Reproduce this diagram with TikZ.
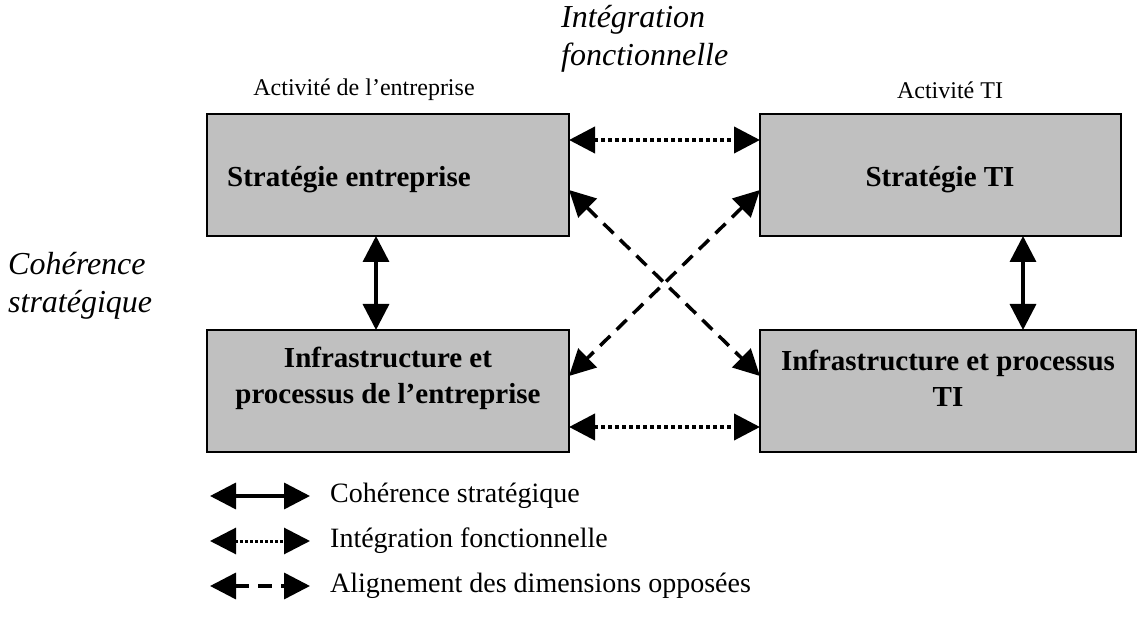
\documentclass[tikz,border=0pt]{standalone}
\usepackage{fontspec}
\setmainfont{Liberation Serif}
\usetikzlibrary{arrows.meta}
\definecolor{boxgray}{RGB}{192,192,192}
\begin{document}
\begin{tikzpicture}[x=1pt,y=-1pt,
  box/.style={draw=black,line width=2pt,fill=boxgray,anchor=north west,inner sep=0pt,outer sep=0pt,minimum height=122pt},
  boldtext/.style={font=\fontsize{29}{36}\selectfont\bfseries,align=center,inner sep=0pt},
  itallabel/.style={font=\fontsize{32}{38}\selectfont\itshape,align=left,inner sep=0pt,anchor=north west},
  smalllabel/.style={font=\fontsize{24}{28}\selectfont,inner sep=0pt},
  legtext/.style={font=\fontsize{28}{32}\selectfont,inner sep=0pt,anchor=west},
  both/.style={{Triangle[length=26pt,width=26pt]}-{Triangle[length=26pt,width=26pt]}},
  solidarrow/.style={both,line width=3.5pt},
  dotarrow/.style={both,line width=4pt,dash pattern=on 4pt off 3pt},
  dasharrow/.style={both,line width=3.5pt,dash pattern=on 14pt off 9pt},
  legdot/.style={both,line width=3pt,dash pattern=on 3pt off 2pt},
]
\useasboundingbox (0,0) rectangle (1138,617);
% boxes
\node[box,minimum width=362pt] (se) at (207,114) {};
\node[box,minimum width=361pt] (st) at (760,114) {};
\node[box,minimum width=362pt] (ie) at (207,330) {};
\node[box,minimum width=376pt] (it) at (760,330) {};
% box texts
\node[boldtext,anchor=west] (set) at (227,180) {Stratégie entreprise};
\node[boldtext] (stt) at (940,180) {Stratégie TI};
\node[boldtext] (iet) at (388,378) {Infrastructure et\\processus de l’entreprise};
\node[boldtext] (itt) at (948,378) {Infrastructure et processus\\TI};
% labels
\node[smalllabel] (a1) at (364,90) {Activité de l’entreprise};
\node[smalllabel] (a2) at (950,90) {Activité TI};
\node[itallabel] (intf) at (561,5) {Intégration\\fonctionnelle};
\node[itallabel] (cohs) at (8,252) {Cohérence\\stratégique};
% connectors
\draw[dotarrow] ([yshift=-26pt]se.north east) -- ([yshift=-26pt]st.north west);
\draw[dotarrow] ([yshift=-97pt]ie.north east) -- ([yshift=-97pt]it.north west);
\draw[solidarrow] ([xshift=169pt]se.south west) -- ([xshift=169pt]ie.north west);
\draw[solidarrow] ([xshift=263pt]st.south west) -- ([xshift=263pt]it.north west);
\draw[dasharrow] ([yshift=-76pt]se.north east) -- ([yshift=-46pt]it.north west);
\draw[dasharrow] ([yshift=-76pt]st.north west) -- ([yshift=-46pt]ie.north east);
% legend
\coordinate (l1a) at (210,496); \coordinate (l1b) at (310,496);
\coordinate (l2a) at (210,541); \coordinate (l2b) at (310,541);
\coordinate (l3a) at (210,586); \coordinate (l3b) at (310,586);
\draw[solidarrow] (l1a) -- (l1b);
\draw[legdot] (l2a) -- (l2b);
\draw[dasharrow] (l3a) -- (l3b);
\node[legtext] (lt1) at (330,496) {Cohérence stratégique};
\node[legtext] (lt2) at (330,541) {Intégration fonctionnelle};
\node[legtext] (lt3) at (330,586) {Alignement des dimensions opposées};
\end{tikzpicture}
\end{document}
